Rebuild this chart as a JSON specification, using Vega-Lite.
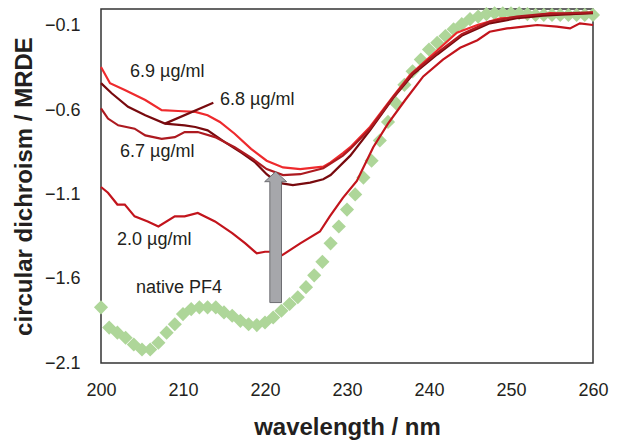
{
  "$schema": "https://vega.github.io/schema/vega-lite/v6.json",
  "width": 492,
  "height": 354,
  "autosize": "none",
  "padding": {"left": 101, "top": 9, "right": 24, "bottom": 78},
  "background": "white",
  "config": {
    "view": {"stroke": "#333333", "strokeWidth": 1.5},
    "font": "Liberation Sans",
    "axis": {
      "grid": false,
      "domain": false,
      "ticks": false,
      "labelFont": "Liberation Sans",
      "labelFontSize": 18,
      "labelColor": "#231f20",
      "titleFont": "Liberation Sans",
      "titleFontSize": 24,
      "titleFontWeight": "bold",
      "titleColor": "#231f20"
    }
  },
  "datasets": {
    "native": [
      {"wl": 200, "v": -1.77}, {"wl": 201, "v": -1.89}, {"wl": 202, "v": -1.92}, {"wl": 203, "v": -1.95},
      {"wl": 204, "v": -1.99}, {"wl": 205, "v": -2.02}, {"wl": 206, "v": -2.02}, {"wl": 207, "v": -1.98},
      {"wl": 208, "v": -1.92}, {"wl": 209, "v": -1.87}, {"wl": 210, "v": -1.81}, {"wl": 211, "v": -1.78},
      {"wl": 212, "v": -1.77}, {"wl": 213, "v": -1.77}, {"wl": 214, "v": -1.77}, {"wl": 215, "v": -1.8},
      {"wl": 216, "v": -1.82}, {"wl": 217, "v": -1.85}, {"wl": 218, "v": -1.87}, {"wl": 219, "v": -1.875},
      {"wl": 220, "v": -1.86}, {"wl": 221, "v": -1.83}, {"wl": 222, "v": -1.79}, {"wl": 223, "v": -1.75},
      {"wl": 224, "v": -1.71}, {"wl": 225, "v": -1.65}, {"wl": 226, "v": -1.58}, {"wl": 227, "v": -1.5},
      {"wl": 228, "v": -1.39}, {"wl": 229, "v": -1.29}, {"wl": 230, "v": -1.19}, {"wl": 231, "v": -1.1},
      {"wl": 232, "v": -1.0}, {"wl": 233, "v": -0.9}, {"wl": 234, "v": -0.78}, {"wl": 235, "v": -0.67},
      {"wl": 236, "v": -0.56}, {"wl": 237, "v": -0.45}, {"wl": 238, "v": -0.37}, {"wl": 239, "v": -0.3},
      {"wl": 240, "v": -0.24}, {"wl": 241, "v": -0.2}, {"wl": 242, "v": -0.16}, {"wl": 243, "v": -0.12},
      {"wl": 244, "v": -0.09}, {"wl": 245, "v": -0.06}, {"wl": 246, "v": -0.045}, {"wl": 247, "v": -0.03},
      {"wl": 248, "v": -0.025}, {"wl": 249, "v": -0.025}, {"wl": 250, "v": -0.025}, {"wl": 251, "v": -0.025},
      {"wl": 252, "v": -0.03}, {"wl": 253, "v": -0.035}, {"wl": 254, "v": -0.035}, {"wl": 255, "v": -0.035},
      {"wl": 256, "v": -0.035}, {"wl": 257, "v": -0.035}, {"wl": 258, "v": -0.035}, {"wl": 259, "v": -0.035},
      {"wl": 260, "v": -0.035}
    ],
    "curves": [
      {"s": "6.9", "wl": 200, "v": -0.344}, {"s": "6.9", "wl": 201.1, "v": -0.44}, {"s": "6.9", "wl": 202.9, "v": -0.48},
      {"s": "6.9", "wl": 205.4, "v": -0.54}, {"s": "6.9", "wl": 207.4, "v": -0.6}, {"s": "6.9", "wl": 209.4, "v": -0.605},
      {"s": "6.9", "wl": 211.5, "v": -0.61}, {"s": "6.9", "wl": 213, "v": -0.63}, {"s": "6.9", "wl": 214.5, "v": -0.67},
      {"s": "6.9", "wl": 216.3, "v": -0.74}, {"s": "6.9", "wl": 218.3, "v": -0.83}, {"s": "6.9", "wl": 220.2, "v": -0.9},
      {"s": "6.9", "wl": 222.2, "v": -0.94}, {"s": "6.9", "wl": 224.3, "v": -0.95}, {"s": "6.9", "wl": 227.1, "v": -0.935},
      {"s": "6.9", "wl": 228, "v": -0.91}, {"s": "6.9", "wl": 229.5, "v": -0.855}, {"s": "6.9", "wl": 230.4, "v": -0.82},
      {"s": "6.9", "wl": 232.8, "v": -0.7}, {"s": "6.9", "wl": 235.6, "v": -0.52}, {"s": "6.9", "wl": 237.7, "v": -0.39},
      {"s": "6.9", "wl": 240.1, "v": -0.285}, {"s": "6.9", "wl": 243.4, "v": -0.14}, {"s": "6.9", "wl": 245.9, "v": -0.095},
      {"s": "6.9", "wl": 248.7, "v": -0.055}, {"s": "6.9", "wl": 252.3, "v": -0.047}, {"s": "6.9", "wl": 254.8, "v": -0.025},
      {"s": "6.9", "wl": 257.2, "v": -0.03}, {"s": "6.9", "wl": 260, "v": -0.022},

      {"s": "6.8", "wl": 200, "v": -0.44}, {"s": "6.8", "wl": 201.3, "v": -0.5}, {"s": "6.8", "wl": 203.3, "v": -0.58},
      {"s": "6.8", "wl": 205.4, "v": -0.63}, {"s": "6.8", "wl": 207.8, "v": -0.68}, {"s": "6.8", "wl": 210.2, "v": -0.69},
      {"s": "6.8", "wl": 211.5, "v": -0.7}, {"s": "6.8", "wl": 213, "v": -0.72}, {"s": "6.8", "wl": 215.1, "v": -0.79},
      {"s": "6.8", "wl": 217.2, "v": -0.855}, {"s": "6.8", "wl": 218.8, "v": -0.91}, {"s": "6.8", "wl": 220.2, "v": -0.98},
      {"s": "6.8", "wl": 221.5, "v": -1.03}, {"s": "6.8", "wl": 223.4, "v": -1.045}, {"s": "6.8", "wl": 225.5, "v": -1.03},
      {"s": "6.8", "wl": 227.1, "v": -1.01}, {"s": "6.8", "wl": 228, "v": -0.985}, {"s": "6.8", "wl": 230.4, "v": -0.87},
      {"s": "6.8", "wl": 232.8, "v": -0.72}, {"s": "6.8", "wl": 235.6, "v": -0.53}, {"s": "6.8", "wl": 238, "v": -0.39},
      {"s": "6.8", "wl": 241, "v": -0.27}, {"s": "6.8", "wl": 244.1, "v": -0.155}, {"s": "6.8", "wl": 247.4, "v": -0.085},
      {"s": "6.8", "wl": 250.7, "v": -0.055}, {"s": "6.8", "wl": 253.9, "v": -0.04}, {"s": "6.8", "wl": 257.2, "v": -0.03},
      {"s": "6.8", "wl": 260, "v": -0.025},

      {"s": "6.7", "wl": 200, "v": -0.59}, {"s": "6.7", "wl": 200.85, "v": -0.65}, {"s": "6.7", "wl": 202.1, "v": -0.69},
      {"s": "6.7", "wl": 204.1, "v": -0.71}, {"s": "6.7", "wl": 205.4, "v": -0.75}, {"s": "6.7", "wl": 207.4, "v": -0.77},
      {"s": "6.7", "wl": 209, "v": -0.76}, {"s": "6.7", "wl": 210.2, "v": -0.73}, {"s": "6.7", "wl": 211.8, "v": -0.73},
      {"s": "6.7", "wl": 213.9, "v": -0.76}, {"s": "6.7", "wl": 216.3, "v": -0.82}, {"s": "6.7", "wl": 218.4, "v": -0.885},
      {"s": "6.7", "wl": 220.2, "v": -0.95}, {"s": "6.7", "wl": 222.2, "v": -0.985}, {"s": "6.7", "wl": 224.3, "v": -0.98},
      {"s": "6.7", "wl": 227.1, "v": -0.945}, {"s": "6.7", "wl": 229.5, "v": -0.87}, {"s": "6.7", "wl": 230.4, "v": -0.83},
      {"s": "6.7", "wl": 232.8, "v": -0.71}, {"s": "6.7", "wl": 235.6, "v": -0.525}, {"s": "6.7", "wl": 238, "v": -0.38},
      {"s": "6.7", "wl": 241, "v": -0.26}, {"s": "6.7", "wl": 244, "v": -0.15}, {"s": "6.7", "wl": 247.4, "v": -0.075},
      {"s": "6.7", "wl": 250.7, "v": -0.045}, {"s": "6.7", "wl": 253.9, "v": -0.03}, {"s": "6.7", "wl": 257.2, "v": -0.025},
      {"s": "6.7", "wl": 260, "v": -0.02},

      {"s": "2.0", "wl": 200, "v": -1.056}, {"s": "2.0", "wl": 200.85, "v": -1.09}, {"s": "2.0", "wl": 202, "v": -1.16},
      {"s": "2.0", "wl": 202.9, "v": -1.16}, {"s": "2.0", "wl": 204.1, "v": -1.23}, {"s": "2.0", "wl": 205.7, "v": -1.26},
      {"s": "2.0", "wl": 207, "v": -1.29}, {"s": "2.0", "wl": 209, "v": -1.23}, {"s": "2.0", "wl": 210.2, "v": -1.23},
      {"s": "2.0", "wl": 211.8, "v": -1.21}, {"s": "2.0", "wl": 213.9, "v": -1.26}, {"s": "2.0", "wl": 216, "v": -1.33},
      {"s": "2.0", "wl": 217.6, "v": -1.39}, {"s": "2.0", "wl": 219, "v": -1.45}, {"s": "2.0", "wl": 220, "v": -1.44},
      {"s": "2.0", "wl": 220.8, "v": -1.44}, {"s": "2.0", "wl": 222.1, "v": -1.46}, {"s": "2.0", "wl": 224.3, "v": -1.39},
      {"s": "2.0", "wl": 226.7, "v": -1.32}, {"s": "2.0", "wl": 227.9, "v": -1.23}, {"s": "2.0", "wl": 229.5, "v": -1.12},
      {"s": "2.0", "wl": 231.2, "v": -1.02}, {"s": "2.0", "wl": 233.2, "v": -0.82}, {"s": "2.0", "wl": 235, "v": -0.68},
      {"s": "2.0", "wl": 237.1, "v": -0.54}, {"s": "2.0", "wl": 239.3, "v": -0.4}, {"s": "2.0", "wl": 241.7, "v": -0.3},
      {"s": "2.0", "wl": 243.8, "v": -0.23}, {"s": "2.0", "wl": 245.9, "v": -0.185}, {"s": "2.0", "wl": 247.4, "v": -0.135},
      {"s": "2.0", "wl": 249.5, "v": -0.115}, {"s": "2.0", "wl": 251.5, "v": -0.105}, {"s": "2.0", "wl": 253.2, "v": -0.095},
      {"s": "2.0", "wl": 255.6, "v": -0.105}, {"s": "2.0", "wl": 257.2, "v": -0.115}, {"s": "2.0", "wl": 258.4, "v": -0.085},
      {"s": "2.0", "wl": 260, "v": -0.095},

      {"s": "6.8 leader", "wl": 207.8, "v": -0.68}, {"s": "6.8 leader", "wl": 213.7, "v": -0.556}
    ],
    "labels": [
      {"wl": 203.54, "v": -0.374, "text": "6.9 µg/ml"},
      {"wl": 214.51, "v": -0.54, "text": "6.8 µg/ml"},
      {"wl": 202.32, "v": -0.848, "text": "6.7 µg/ml"},
      {"wl": 201.95, "v": -1.37, "text": "2.0 µg/ml"},
      {"wl": 204.27, "v": -1.655, "text": "native PF4"}
    ],
    "arrow": [
      {"wl": 221.3, "v": -0.965}
    ],
    "xticks": [
      {"wl": 205}, {"wl": 210}, {"wl": 215}, {"wl": 220}, {"wl": 225}, {"wl": 230},
      {"wl": 235}, {"wl": 240}, {"wl": 245}, {"wl": 250}, {"wl": 255}
    ],
    "yticks": [
      {"v": -1.85}, {"v": -1.6}, {"v": -1.35}, {"v": -1.1}, {"v": -0.85}, {"v": -0.6}, {"v": -0.35}, {"v": -0.1}
    ]
  },
  "encoding": {
    "x": {
      "field": "wl", "type": "quantitative",
      "scale": {"domain": [200, 260], "nice": false, "zero": false},
      "axis": {
        "title": "wavelength / nm",
        "values": [200, 210, 220, 230, 240, 250, 260],
        "labelPadding": 18,
        "labelFlush": false,
        "titleY": 64,
        "titleBaseline": "middle"
      }
    },
    "y": {
      "field": "v", "type": "quantitative",
      "scale": {"domain": [-2.1, 0], "nice": false, "zero": false},
      "axis": {
        "title": "circular dichroism / MRDE",
        "values": [-2.1, -1.6, -1.1, -0.6, -0.1],
        "labelExpr": "replace(format(datum.value, '.1f'), '-', '\u2013')",
        "labelPadding": 21,
        "labelFlush": false,
        "titleX": -77,
        "titleY": 177,
        "titleAngle": -90,
        "titleAlign": "center",
        "titleBaseline": "middle"
      }
    }
  },
  "layer": [
    {
      "data": {"name": "native"},
      "mark": {"type": "point", "shape": "diamond", "filled": true, "size": 200, "opacity": 1, "color": "#aed699"}
    },
    {
      "data": {"name": "curves"},
      "mark": {"type": "line", "strokeWidth": 2.2, "interpolate": "linear"},
      "encoding": {
        "color": {
          "field": "s", "type": "nominal",
          "scale": {"domain": ["2.0", "6.7", "6.8", "6.9", "6.8 leader"], "range": ["#c2141c", "#ad1a20", "#780a0e", "#ee2a2d", "#780a0e"]},
          "legend": null
        },
        "detail": {"field": "s"},
        "order": {"field": "wl", "type": "quantitative"}
      }
    },
    {
      "data": {"name": "arrow"},
      "mark": {
        "type": "point",
        "shape": "M0,0L1,0.91L0.53,0.91L0.53,11.9L-0.53,11.9L-0.53,0.91L-1,0.91Z",
        "size": 484,
        "filled": true,
        "fill": "#a6a7ab",
        "stroke": "#6d6d72",
        "strokeWidth": 1,
        "opacity": 1
      }
    },
    {
      "data": {"name": "xticks"},
      "mark": {"type": "rule", "strokeWidth": 2, "color": "#222222", "opacity": 1},
      "encoding": {"y": {"datum": -2.1}, "y2": {"datum": -2.045}}
    },
    {
      "data": {"name": "yticks"},
      "mark": {"type": "rule", "strokeWidth": 2, "color": "#222222", "opacity": 1},
      "encoding": {"x": {"datum": 200}, "x2": {"datum": 201.1}}
    },
    {
      "data": {"name": "labels"},
      "mark": {"type": "text", "align": "left", "baseline": "middle", "fontSize": 18, "font": "Liberation Sans", "color": "#231f20"},
      "encoding": {"text": {"field": "text"}}
    }
  ]
}
